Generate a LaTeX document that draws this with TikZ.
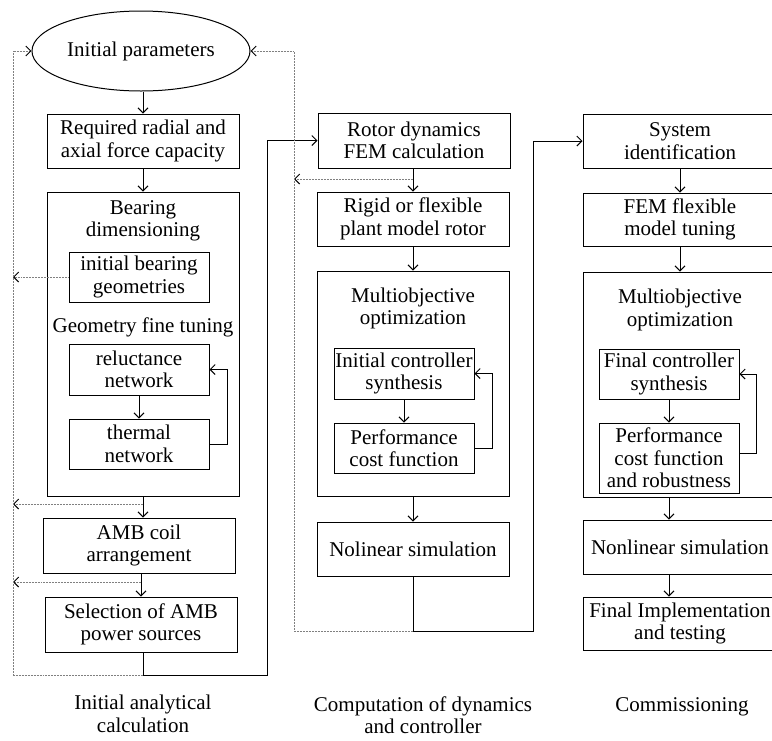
\documentclass[tikz,border=0pt]{standalone}
\usepackage{fontspec}
\setmainfont{Liberation Serif}
\usetikzlibrary{arrows.meta,shapes.geometric}
\begin{document}
\begin{tikzpicture}[x=1pt, y=-1pt,
    font=\fontsize{21}{22.5}\selectfont,
    line width=1pt,
    >={Straight Barb[length=5pt,width=10pt]},
    stepbox/.style={draw, align=center, inner sep=1pt, minimum width=192pt, minimum height=54pt},
    subbox/.style={draw, align=center, inner sep=1pt, minimum width=140pt, minimum height=50pt},
    groupbox/.style={draw, minimum width=192pt},
    back/.style={-{Straight Barb[length=5pt,width=10pt,color=black,line width=1pt]}, dash pattern=on 1pt off 0.5pt, gray},
    flow/.style={->}]
    \clip (0,0) rectangle (772,740);

    % Initial analytical calculation
    \node[draw, ellipse, minimum width=196pt, minimum height=80pt] (init) at (141,51) {Initial parameters};
    \node[stepbox] (req) at (143,141) {Required radial and\\axial force capacity};
    \node[groupbox, minimum height=304pt] (bear) at (143,344) {};
    \node[align=center] (beart) at (143,221) {Bearing\\dimensioning};
    \node[subbox] (geom) at (139,277) {initial bearing\\geometries};
    \node (tune) at (143,327) {Geometry fine tuning};
    \node[subbox, minimum height=51pt] (rel) at (139,369.5) {reluctance\\network};
    \node[subbox] (therm) at (139,444) {thermal\\network};
    \node[stepbox, minimum height=55pt] (coil) at (139,545.5) {AMB coil\\arrangement};
    \node[stepbox, minimum height=55pt] (sel) at (141,624.5) {Selection of AMB\\power sources};

    \draw[flow] (req.north |- init.south) -- (req.north);
    \draw[flow] (req) -- (bear);
    \draw[flow] (rel) -- (therm);
    \draw[->] (therm.east) -- ++(18,0) |- (rel.east);
    \draw[flow] (bear.south) -- (bear.south |- coil.north);
    \draw[flow] (sel.north |- coil.south) -- (sel.north);

    \coordinate (rail) at (13,0);
    \coordinate (tap1) at (143,504);
    \coordinate (tap2) at (141,582);
    \coordinate (lbot) at (143,675);
    \draw[back] (geom.west) -- (geom.west -| rail);
    \draw[back] (tap1) -- (tap1 -| rail);
    \draw[back] (tap2) -- (tap2 -| rail);
    \draw[back] (lbot) -- (lbot -| rail) |- (init.west);

    % Computation of dynamics and controller
    \node[stepbox, minimum height=55pt] (rot) at (414,140.5) {Rotor dynamics\\FEM calculation};
    \node[stepbox] (rig) at (413,219) {Rigid or flexible\\plant model rotor};
    \node[groupbox, minimum height=225pt] (multi) at (413,383.5) {};
    \node[align=center] (multit) at (413,308.5) {Multiobjective\\optimization};
    \node[subbox, minimum height=51pt] (ics) at (404,373.5) {Initial controller\\synthesis};
    \node[subbox] (pcf) at (404,448) {Performance\\cost function};
    \node[stepbox] (nsim) at (413,549) {Nolinear simulation};

    \draw[flow] (lbot |- sel.south) -- (lbot) -- ++(124,0) |- (rot.west);
    \draw[flow] (rig.north |- rot.south) -- (rig.north);
    \draw[flow] (rig) -- (multi);
    \draw[flow] (ics) -- (pcf);
    \draw[->] (pcf.east) -- ++(18,0) |- (ics.east);
    \draw[flow] (multi) -- (nsim);

    \coordinate (mrail) at (294,0);
    \coordinate (tap3) at (413,179);
    \coordinate (mbot) at (413,631);
    \draw[back] (tap3) -- (tap3 -| mrail);
    \draw[back] (mbot) -- (mbot -| mrail) |- (init.east);

    % Commissioning
    \node[stepbox, minimum width=194pt] (sys) at (680,141) {System\\identification};
    \node[stepbox, minimum width=194pt, minimum height=53pt] (fem) at (680,219.5) {FEM flexible\\model tuning};
    \node[groupbox, minimum width=194pt, minimum height=225pt] (multi2) at (680,384.5) {};
    \node[align=center] (multi2t) at (680,310) {Multiobjective\\optimization};
    \node[subbox] (fcs) at (669,374) {Final controller\\synthesis};
    \node[subbox, minimum height=70pt] (pcr) at (669,458) {Performance\\cost function\\and robustness};
    \node[stepbox, minimum width=194pt] (nonsim) at (680,547) {Nonlinear simulation};
    \node[stepbox, minimum width=194pt, minimum height=53pt] (fin) at (680,623.5) {Final Implementation\\and testing};

    \draw[flow] (nsim.south) -- (mbot) -- ++(120,0) |- (sys.west);
    \draw[flow] (sys) -- (fem);
    \draw[flow] (fem) -- (multi2);
    \draw[flow] (fcs) -- (pcr);
    \draw[->] ([yshift=5pt]pcr.east) -- ++(17,0) |- (fcs.east);
    \draw[flow] (multi2.south -| fcs) -- (nonsim.north -| fcs);
    \draw[flow] (nonsim.south -| fcs) -- (fin.north -| fcs);

    % phase labels
    \node[align=center] (lab1) at (143,714) {Initial analytical\\calculation};
    \node[align=center] (lab2) at (423,715) {Computation of dynamics\\and controller};
    \node (lab3) at (682,707) {Commissioning};
\end{tikzpicture}
\end{document}
